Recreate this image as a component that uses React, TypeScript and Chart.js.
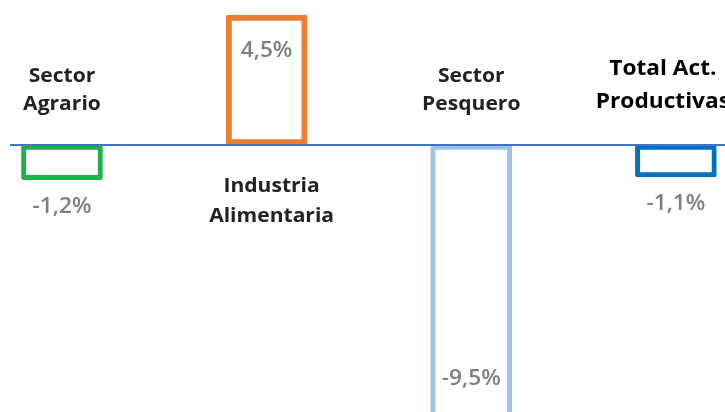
import { useEffect, useRef } from "react";
import { Chart, registerables } from "chart.js";

Chart.register(...registerables);

const categories: string[][] = [
  ["Sector", "Agrario"],
  ["Industria", "Alimentaria"],
  ["Sector", "Pesquero"],
  ["Total Act.", "Productivas"],
];
const values: number[] = [-1.2, 4.5, -9.5, -1.1];
const emphasized: boolean[] = [false, false, false, true];
const barColors: string[] = ["#22B04B", "#ED7D31", "#9DC3E6", "#0070C0"];
const barBorderWidths: number[] = [5, 6, 5, 5];

const fmt = (v: number) => v.toFixed(1).replace(".", ",") + "%";

const SX = 1.08;

function drawText(ctx: CanvasRenderingContext2D, text: string, x: number, y: number, font: string, color: string) {
  ctx.save();
  ctx.translate(x, y);
  ctx.scale(SX, 1);
  ctx.font = font;
  ctx.fillStyle = color;
  ctx.textAlign = "center";
  ctx.textBaseline = "alphabetic";
  ctx.fillText(text, 0, 0);
  ctx.restore();
}

const labelPlugin = {
  id: "barLabels",
  afterDatasetsDraw(chart: any) {
    const { ctx, chartArea, scales } = chart;
    const y0 = scales.y.getPixelForValue(0);
    ctx.save();
    ctx.strokeStyle = "#4472C4";
    ctx.lineWidth = 2;
    ctx.beginPath();
    ctx.moveTo(chartArea.left, y0);
    ctx.lineTo(chart.width, y0);
    ctx.stroke();

    const meta = chart.getDatasetMeta(0);
    meta.data.forEach((el: any, i: number) => {
      const v = values[i];
      const { x, y } = el.getProps(["x", "y"], true);
      const lines = categories[i];
      const catFont = emphasized[i]
        ? "bold 21px 'Open Sans'"
        : "bold 19.5px 'Open Sans'";
      const catColor = emphasized[i] ? "#000000" : "#222222";
      const cx = emphasized[i] ? x - 13 : x + (v > 0 ? 5 : 0);
      if (v < 0) {
        const b1 = emphasized[i] ? y0 - 70 : y0 - 63;
        const b2 = emphasized[i] ? y0 - 37 : y0 - 35;
        drawText(ctx, lines[0], cx, b1, catFont, catColor);
        drawText(ctx, lines[1], cx, b2, catFont, catColor);
      } else {
        drawText(ctx, lines[0], cx, y0 + 47, catFont, catColor);
        drawText(ctx, lines[1], cx, y0 + 77, catFont, catColor);
      }
      const valFont = "600 21px 'Open Sans'";
      const valColor = "#7F7F7F";
      const txt = fmt(v);
      if (Math.abs(v) > 3) {
        if (v > 0) drawText(ctx, txt, x, y + 42, valFont, valColor);
        else drawText(ctx, txt, x, y - 35, valFont, valColor);
      } else {
        if (v < 0) drawText(ctx, txt, x, y + 33, valFont, valColor);
        else drawText(ctx, txt, x, y - 10, valFont, valColor);
      }
    });
    ctx.restore();
  },
};

export default function App() {
  const ref = useRef<HTMLCanvasElement | null>(null);
  useEffect(() => {
    if (!ref.current) return;
    const chart = new Chart(ref.current, {
      type: "bar",
      data: {
        datasets: [
          {
            data: values.map((v, i) => ({ x: i, y: v })),
            backgroundColor: "#ffffff",
            borderColor: barColors,
            borderWidth: barBorderWidths,
            borderSkipped: false,
            borderRadius: 2,
            barThickness: 81,
          } as any,
        ],
      },
      options: {
        animation: false,
        responsive: false,
        maintainAspectRatio: false,
        layout: { padding: { left: 10, right: 0, top: 0, bottom: 0 } },
        plugins: { legend: { display: false }, tooltip: { enabled: false } },
        scales: {
          x: { type: "linear", offset: false, min: -0.254, max: 3.24, display: false },
          y: { min: -9.24, max: 5.02, display: false },
        },
      },
      plugins: [labelPlugin],
    });
    return () => chart.destroy();
  }, []);
  return (
    <div style={{ position: "fixed", left: 0, top: 0, width: 725, height: 412, background: "#fff" }}>
      <canvas ref={ref} width={725} height={412} style={{ width: 725, height: 412, display: "block" }} />
    </div>
  );
}
